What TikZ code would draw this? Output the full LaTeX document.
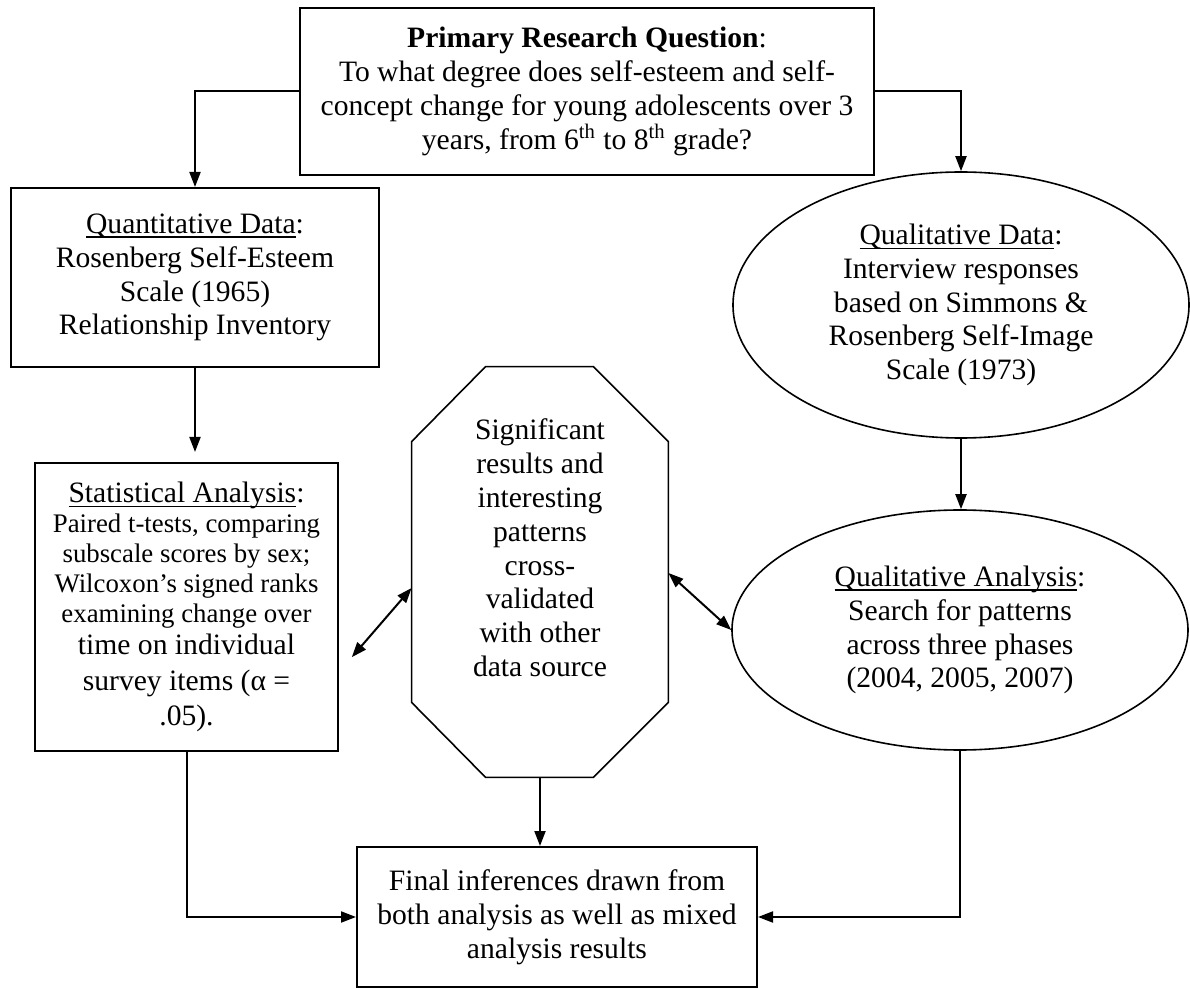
\documentclass[tikz,border=0pt]{standalone}
\usepackage{fontspec}
\setmainfont{Liberation Serif}
\usetikzlibrary{shapes.geometric,arrows.meta,calc}
\newcommand\undl[1]{\setbox0\hbox{#1}\rlap{\rule[-2.2pt]{\wd0}{0.7pt}}\box0}
\newcommand\smallline[1]{{\fontsize{13.4pt}{15pt}\selectfont #1}}
\begin{document}
\begin{tikzpicture}[x=0.5pt,y=-0.5pt,
  txt/.style={font=\fontsize{14.8pt}{16.9pt}\selectfont, align=center, inner sep=0pt},
  boxst/.style={txt, draw, line width=1pt, rectangle},
  ellst/.style={txt, draw, line width=0.8pt, ellipse, inner sep=0pt},
  arr/.style={line width=1pt, -{Triangle[length=7.5pt,width=5.5pt]}},
  dbl/.style={line width=1pt, {Triangle[length=7.5pt,width=5.5pt]}-{Triangle[length=7.5pt,width=5.5pt]}}]
\useasboundingbox (0,0) rectangle (1190,989);
\fill[white] (0,0) rectangle (1190,989);

\node[boxst, minimum width=287pt, minimum height=83.5pt] (top) at (587,91.5)
  {\textbf{Primary Research Question}:\\To what degree does self-esteem and self-\\concept change for young adolescents over 3\\years, from 6\textsuperscript{th} to 8\textsuperscript{th} grade?};

\node[boxst, minimum width=184pt, minimum height=89.5pt] (quant) at (195,277.5)
  {\undl{Quantitative Data}:\\Rosenberg Self-Esteem\\Scale (1965)\\Relationship Inventory};

\node[ellst, minimum width=228pt, minimum height=133pt] (qd) at (961,305)
  {\undl{Qualitative Data}:\\Interview responses\\based on Simmons \&\\Rosenberg Self-Image\\Scale (1973)};

\node[boxst, minimum width=151.5pt, minimum height=144pt] (stat) at (186.5,607)
  {\undl{Statistical Analysis}:\\[-1.9pt]
   \smallline{Paired t-tests, comparing}\\[-1.9pt]
   \smallline{subscale scores by sex;}\\[-1.9pt]
   \smallline{Wilcoxon’s signed ranks}\\[-1.9pt]
   \smallline{examining change over}\\[-0.75pt]
   time on individual\\[1pt]
   survey items (α =\\[0.5pt]
   .05).};

\node[minimum width=128pt, minimum height=205pt, inner sep=0pt] (oct) at (540,572) {};
\draw[line width=0.8pt]
  ($(oct.north west)+(74,0)$) -- ($(oct.north east)+(-75,0)$) --
  ($(oct.north east)+(0,75)$) -- ($(oct.south east)+(0,-75)$) --
  ($(oct.south east)+(-75,0)$) -- ($(oct.south west)+(74,0)$) --
  ($(oct.south west)+(0,-75)$) -- ($(oct.north west)+(0,75)$) -- cycle;
\node[txt] (octtext) at (540,548)
  {Significant\\results and\\interesting\\patterns\\cross-\\validated\\with other\\data source};

\node[ellst, minimum width=228pt, minimum height=120pt] (qa) at (960,630)
  {\undl{Qualitative Analysis}:\\Search for patterns\\across three phases\\(2004, 2005, 2007)};

\node[boxst, minimum width=200pt, minimum height=70pt] (final) at (557,917)
  {Final inferences drawn from\\both analysis as well as mixed\\analysis results};

\draw[arr] (top.west) -| (quant.north);
\draw[arr] (top.east) -| (qd.north);
\draw[arr, shorten >=5pt] (quant.south) -- (quant.south |- stat.north);
\draw[arr] (qd.south) -- (qd.south |- qa.north);
\draw[arr] (oct.south) -- (oct.south |- final.north);
\draw[arr] (stat.south) |- (final.west);
\draw[arr] (qa.south) |- (final.east);
\draw[dbl, shorten <=9.8pt] (stat.east |- 0,672) -- (oct.west |- 0,588);
\draw[dbl] (oct.east |- 0,573) -- (qa.west);
\end{tikzpicture}
\end{document}
